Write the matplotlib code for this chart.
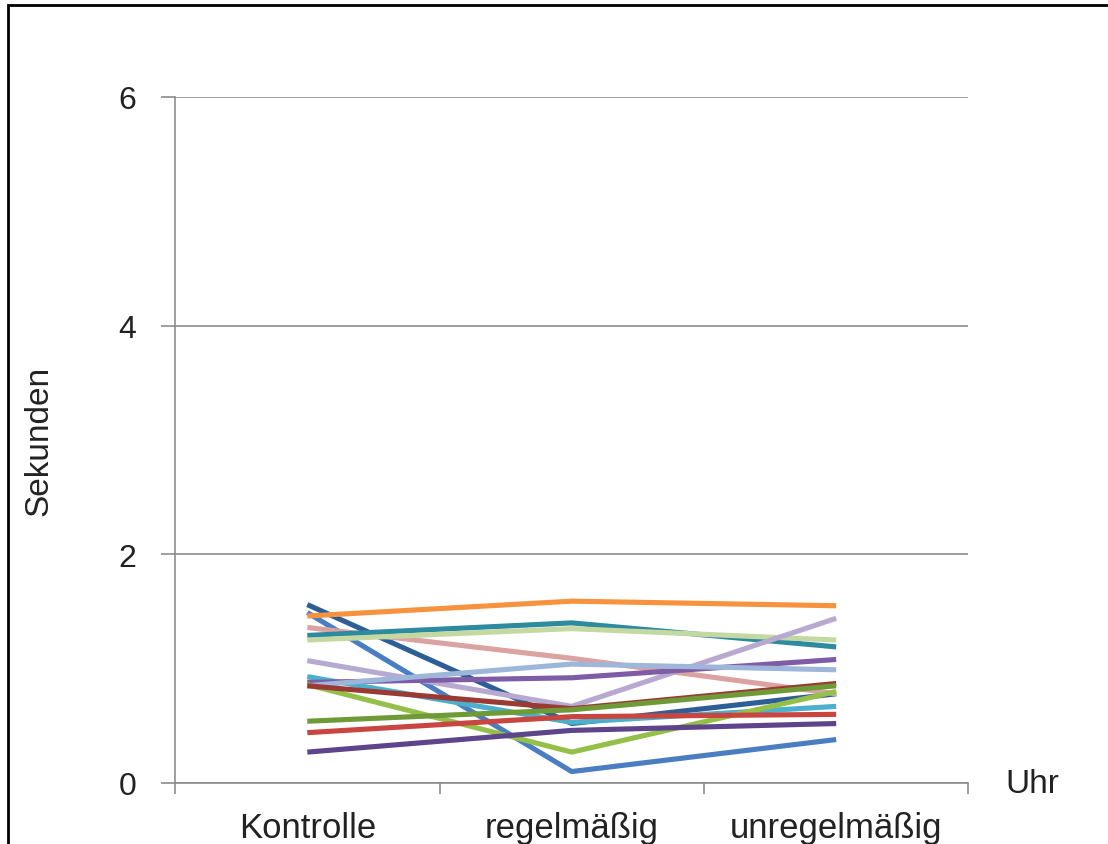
import matplotlib
matplotlib.use("Agg")
import matplotlib.pyplot as plt
from matplotlib.patches import Rectangle

plt.rcParams["font.family"] = ["Liberation Sans", "DejaVu Sans"]

# categories on the x axis
categories = ["Kontrolle", "regelmäßig", "unregelmäßig"]

# one list per participant (seconds)
series = [
    [1.56, 0.52, 0.78],
    [1.49, 0.10, 0.38],
    [1.46, 1.59, 1.55],
    [1.36, 1.09, 0.78],
    [1.29, 1.40, 1.19],
    [1.25, 1.35, 1.25],
    [1.07, 0.67, 1.44],
    [0.93, 0.53, 0.67],
    [0.88, 0.92, 1.08],
    [0.85, 1.04, 0.99],
    [0.86, 0.27, 0.80],
    [0.85, 0.65, 0.87],
    [0.54, 0.64, 0.85],
    [0.44, 0.58, 0.60],
    [0.27, 0.46, 0.52],
]
colors = [
    "#2E5E96", "#4A7EC0", "#F7923F", "#DAA3A1", "#2E8A9E",
    "#C4D8A2", "#B7A9CF", "#4BB0CC", "#7E5DA6", "#9DB6D9",
    "#94C04A", "#9A3A32", "#6E9A38", "#C8463F", "#5E448A",
]

y_ticks = [0, 2, 4, 6]

fig = plt.figure(figsize=(11.08, 8.45), dpi=100)
ax = fig.add_axes([0.158, 0.0722, 0.716, 0.812])

x = list(range(len(categories)))
for vals, c in zip(series, colors):
    ax.plot(x, vals, color=c, lw=3.7, solid_capstyle="butt", solid_joinstyle="round")

ax.set_xlim(-0.5, 2.5)
ax.set_ylim(0, 6)
ax.set_yticks(y_ticks)
ax.set_yticklabels([str(t) for t in y_ticks], fontsize=23, color="#222222")
ax.yaxis.grid(True, color="#8c8c8c", lw=1.2)
ax.set_axisbelow(True)

ax.set_xticks(x)
ax.set_xticklabels(categories, fontsize=25, color="#222222")
ax.set_xticks([-0.5, 0.5, 1.5, 2.5], minor=True)
ax.tick_params(axis="x", which="major", length=0, pad=20)
ax.tick_params(axis="x", which="minor", length=8, width=1.2, color="#8c8c8c", direction="out")
ax.tick_params(axis="y", length=10, width=1.2, color="#8c8c8c", direction="out", pad=18)

for s in ["top", "right"]:
    ax.spines[s].set_visible(False)
for s in ["left", "bottom"]:
    ax.spines[s].set_color("#8c8c8c")
    ax.spines[s].set_linewidth(1.2)

ax.set_ylabel("Sekunden", fontsize=24, color="#222222")
ax.yaxis.set_label_coords(-0.152, 0.5)
fig.text(1005 / 1108, 60 / 845, "Uhr", fontsize=24, color="#222222", va="center")

# frame around the chart (cut off at right and bottom)
fig.patches.append(Rectangle((8 / 1108, -0.1), 1.2, 0.1 + 839 / 845, transform=fig.transFigure,
                             fill=False, ec="black", lw=2.0))

fig.savefig("out.png", dpi=100, facecolor="white")
